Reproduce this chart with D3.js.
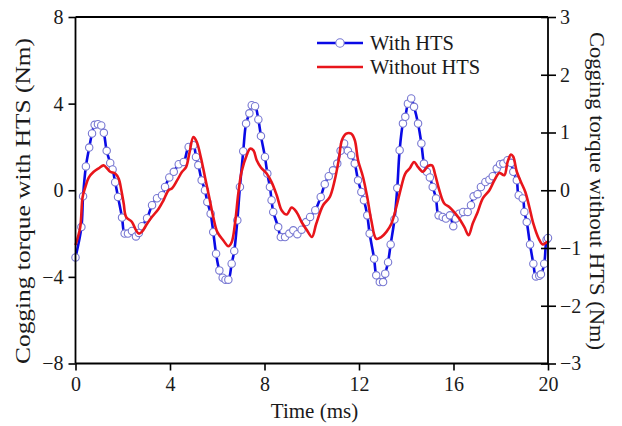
<!DOCTYPE html>
<html>
<head>
<meta charset="utf-8">
<script src="https://cdn.jsdelivr.net/npm/d3@7"></script>
<style>
  html, body { margin: 0; padding: 0; background: #fff; }
  text { font-family: "Liberation Serif", "Times New Roman", serif; fill: #1a1a1a; }
</style>
</head>
<body>
<svg id="chart" width="622" height="426"></svg>
<script>
// ---- data ----
const withTime = [0,0.25,0.32,0.44,0.58,0.7,0.81,0.95,1.09,1.2,1.32,1.47,1.57,1.68,1.8,1.97,2.08,2.22,2.39,2.56,2.68,2.81,3.03,3.24,3.45,3.66,3.79,3.97,4.16,4.37,4.58,4.79,4.99,5.1,5.2,5.34,5.48,5.58,5.72,5.83,5.95,6.09,6.23,6.35,6.47,6.61,6.72,6.85,6.96,7.1,7.22,7.36,7.46,7.6,7.74,7.85,8.02,8.12,8.23,8.3,8.37,8.58,8.69,8.87,9.05,9.22,9.39,9.57,9.76,9.93,10.15,10.38,10.55,10.72,10.9,11.08,11.22,11.37,11.53,11.67,11.82,11.96,12.1,12.21,12.35,12.45,12.64,12.73,12.88,13.02,13.11,13.23,13.34,13.5,13.62,13.72,13.86,13.96,14.07,14.21,14.33,14.5,14.64,14.75,14.87,15.0,15.12,15.26,15.37,15.54,15.68,15.85,15.99,16.1,16.24,16.41,16.6,16.74,16.85,17.02,17.16,17.35,17.52,17.66,17.83,17.97,18.11,18.29,18.43,18.53,18.68,18.76,18.93,19.0,19.1,19.24,19.38,19.49,19.63,19.7,19.84,19.94,20.0];
const withHTS = [-3.1,-1.7,-0.28,1.1,1.97,2.62,3.02,3.05,2.99,2.65,1.82,1.26,0.96,0.37,-0.31,-1.26,-2.0,-2.0,-1.88,-2.13,-1.97,-1.66,-1.29,-0.69,-0.37,-0.23,0.15,0.59,0.85,1.2,1.31,2.0,2.08,1.54,1.16,0.46,0.0,-0.54,-1.08,-1.93,-2.93,-3.7,-4.04,-4.13,-4.13,-3.39,-2.8,-1.39,0.15,1.8,3.08,3.55,3.93,3.88,3.27,2.5,1.54,0.77,0.15,-0.46,-1.0,-1.7,-2.16,-2.16,-2.0,-1.85,-2.03,-1.82,-1.47,-1.23,-0.92,-0.31,0.28,0.65,0.92,1.23,1.82,2.16,1.82,1.62,1.23,0.46,-0.08,-0.46,-1.16,-2.0,-3.16,-3.93,-4.24,-4.24,-3.85,-3.32,-2.5,-1.35,0.1,1.85,3.08,3.39,4.0,4.24,3.85,3.08,2.16,1.23,0.85,0.59,0.15,-0.38,-1.16,-1.23,-1.31,-1.16,-1.66,-1.31,-1.08,-1.0,-1.0,-0.69,-0.28,-0.18,0.15,0.38,0.49,0.65,1.0,1.2,1.23,1.39,1.26,0.85,0.46,-0.23,-0.38,-1.0,-1.47,-2.5,-3.39,-3.98,-3.95,-3.88,-3.39,-2.28,-2.2];

const withoutTime = [0,0.2,0.3,0.42,0.56,0.77,0.98,1.19,1.33,1.47,1.68,1.83,1.94,2.04,2.14,2.39,2.56,2.68,2.81,3.03,3.24,3.52,3.73,3.94,4.08,4.3,4.51,4.68,4.82,4.99,5.13,5.3,5.48,5.66,5.83,6.0,6.26,6.47,6.61,6.75,6.89,7.03,7.25,7.39,7.53,7.67,7.84,8.09,8.3,8.52,8.73,8.94,9.15,9.36,9.57,9.79,10.01,10.19,10.48,10.76,10.97,11.14,11.28,11.46,11.67,11.82,11.96,12.17,12.35,12.52,12.73,12.94,13.16,13.37,13.58,13.79,13.96,14.15,14.33,14.5,14.71,14.92,15.09,15.23,15.4,15.61,15.82,16.03,16.24,16.46,16.64,16.81,17.02,17.24,17.52,17.73,17.94,18.15,18.29,18.43,18.53,18.68,18.86,19.04,19.21,19.38,19.61,19.78,19.94,20.0];
const withoutHTS = [-0.95,-0.64,-0.12,0.06,0.22,0.32,0.38,0.43,0.38,0.32,0.29,0.2,0.0,-0.23,-0.46,-0.55,-0.69,-0.75,-0.72,-0.58,-0.46,-0.32,-0.17,0.0,0.03,0.17,0.32,0.4,0.64,0.92,0.84,0.58,0.23,-0.12,-0.46,-0.72,-0.87,-0.97,-0.9,-0.58,-0.06,0.32,0.61,0.72,0.69,0.52,0.4,0.29,0.14,-0.09,-0.35,-0.42,-0.3,-0.38,-0.55,-0.69,-0.81,-0.58,-0.26,-0.12,0.17,0.52,0.87,0.98,0.98,0.87,0.52,0.23,-0.12,-0.52,-0.84,-0.81,-0.72,-0.58,-0.29,0.06,0.29,0.38,0.49,0.4,0.32,0.42,0.43,0.26,0.0,-0.23,-0.29,-0.38,-0.49,-0.64,-0.78,-0.58,-0.38,-0.14,0.0,0.17,0.3,0.26,0.49,0.62,0.58,0.32,0.14,-0.03,-0.29,-0.58,-0.84,-0.94,-0.9,-0.9];

const xTicks = [0, 4, 8, 12, 16, 20];
const leftTicks = [-8, -4, 0, 4, 8];
const rightTicks = [-3, -2, -1, 0, 1, 2, 3];
const seriesNames = ["With HTS", "Without HTS"];
const xTitle = "Time (ms)";
const leftTitle = "Cogging torque with HTS (Nm)";
const rightTitle = "Cogging torque without HTS (Nm)";

// ---- layout ----
const L = 75.5, R = 548, T = 17, B = 363.5;
const svg = d3.select("#chart");
const x = d3.scaleLinear().domain([0, 20]).range([L, R]);
const yL = d3.scaleLinear().domain([-8, 8]).range([B, T]);
const yR = d3.scaleLinear().domain([-3, 3]).range([B, T]);

const blueData = withTime.map((t, i) => [t, withHTS[i]]);
const redData = withoutTime.map((t, i) => [t, withoutHTS[i]]);

const blue = "#0a0ae6", red = "#e8151b", marker = "#7878d2";

// series
svg.append("path")
  .attr("d", d3.line().x(d => x(d[0])).y(d => yL(d[1])).curve(d3.curveCatmullRom.alpha(0.5))(blueData))
  .attr("fill", "none").attr("stroke", blue).attr("stroke-width", 2.6).attr("stroke-linejoin", "round");
svg.append("g").selectAll("circle").data(blueData).join("circle")
  .attr("cx", d => x(d[0])).attr("cy", d => yL(d[1])).attr("r", 3.7)
  .attr("fill", "#fff").attr("stroke", marker).attr("stroke-width", 1.1);
svg.append("path")
  .attr("d", d3.line().x(d => x(d[0])).y(d => yR(d[1])).curve(d3.curveCatmullRom.alpha(0.5))(redData))
  .attr("fill", "none").attr("stroke", red).attr("stroke-width", 2.6).attr("stroke-linejoin", "round");

// axes
const fs = "20px";
const gB = svg.append("g").attr("transform", `translate(0,${B})`)
  .call(d3.axisBottom(x).tickValues(xTicks).tickSize(7).tickPadding(6).tickFormat(d3.format("d")));
const gL = svg.append("g").attr("transform", `translate(${L},0)`)
  .call(d3.axisLeft(yL).tickValues(leftTicks).tickSize(7).tickPadding(5).tickFormat(d3.format("d")));
const gR = svg.append("g").attr("transform", `translate(${R},0)`)
  .call(d3.axisRight(yR).tickValues(rightTicks).tickSize(8).tickPadding(4).tickFormat(d3.format("d")));
gR.selectAll(".tick line").attr("x1", -7);
[gB, gL, gR].forEach(g => {
  g.select(".domain").attr("stroke", "#000").attr("stroke-width", 1.8);
  g.selectAll(".tick line").attr("stroke", "#000").attr("stroke-width", 1.6);
  g.selectAll(".tick text").attr("font-size", fs).attr("font-family", "Liberation Serif").attr("fill", "#1a1a1a");
});
gB.select(".domain").attr("d", `M${L},0H${R}`);
gL.select(".domain").attr("d", `M0,${T}V${B}`);
gR.select(".domain").attr("d", `M0,${T}V${B}`);
svg.append("line").attr("x1", L).attr("x2", R).attr("y1", T).attr("y2", T)
  .attr("stroke", "#000").attr("stroke-width", 1.8);

// titles
svg.append("text").attr("x", 314.5).attr("y", 418).attr("text-anchor", "middle")
  .attr("font-size", "21px").text(xTitle);
svg.append("text").attr("transform", "translate(30,201) rotate(-90)").attr("text-anchor", "middle")
  .attr("font-size", fs).attr("textLength", 326).attr("lengthAdjust", "spacingAndGlyphs").text(leftTitle);
svg.append("text").attr("transform", "translate(590,191) rotate(90)").attr("text-anchor", "middle")
  .attr("font-size", fs).attr("textLength", 318).attr("lengthAdjust", "spacingAndGlyphs").text(rightTitle);

// legend
const lg = svg.append("g");
lg.append("line").attr("x1", 317).attr("x2", 363).attr("y1", 43).attr("y2", 43).attr("stroke", blue).attr("stroke-width", 2.6);
lg.append("circle").attr("cx", 340).attr("cy", 43).attr("r", 4.2).attr("fill", "#fff").attr("stroke", marker).attr("stroke-width", 1.1);
lg.append("text").attr("x", 370).attr("y", 50).attr("font-size", "20.5px").text(seriesNames[0]);
lg.append("line").attr("x1", 317).attr("x2", 363).attr("y1", 67).attr("y2", 67).attr("stroke", red).attr("stroke-width", 2.6);
lg.append("text").attr("x", 370).attr("y", 74).attr("font-size", "20.5px").text(seriesNames[1]);
</script>
</body>
</html>
